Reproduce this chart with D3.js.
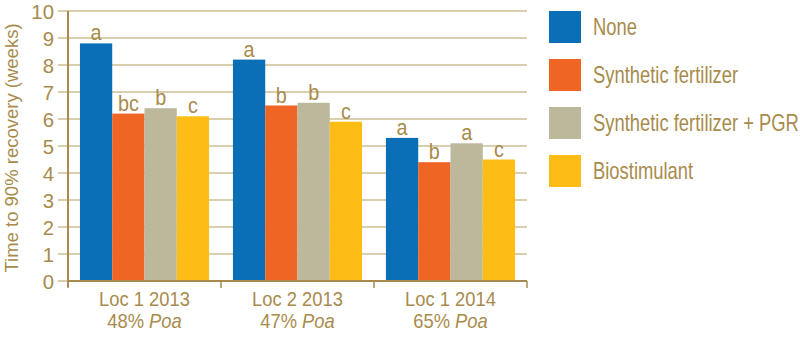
<!DOCTYPE html>
<html><head><meta charset="utf-8">
<script src="https://cdn.jsdelivr.net/npm/d3@7"></script>
<style>
html,body{margin:0;padding:0;background:#fff;}
svg text{font-family:"Liberation Sans","Arial",sans-serif;fill:#a88b4c;}
</style></head>
<body><svg id="c" width="800" height="352"></svg>
<script>
const categories = ["Loc 1 2013", "Loc 2 2013", "Loc 1 2014"];
const poaLabels = ["48%", "47%", "65%"];
const series = ["None", "Synthetic fertilizer", "Synthetic fertilizer + PGR", "Biostimulant"];
const colors = ["#0a6fb6", "#ef6523", "#bbb89c", "#fdbd15"];
const values = [
  [8.8, 6.2, 6.4, 6.1],
  [8.2, 6.5, 6.6, 5.9],
  [5.3, 4.4, 5.1, 4.5]
];
const letters = [
  ["a", "bc", "b", "c"],
  ["a", "b", "b", "c"],
  ["a", "b", "a", "c"]
];
const yTicks = [0,1,2,3,4,5,6,7,8,9,10];

const svg = d3.select("#c");
const L = 68, R = 527, T = 11, B = 281;
const gridCol = "#cdbf93", axisCol = "#a88b4c";

// condensed text helper: horizontal squeeze
function txt(parent, x, y, str, size, sx, anchor) {
  const t = parent.append("text")
    .attr("transform", `translate(${x},${y}) scale(${sx},1)`)
    .attr("text-anchor", anchor || "start")
    .style("font-size", size + "px");
  if (str !== null) t.text(str);
  return t;
}

const y = d3.scaleLinear().domain([0, 10]).range([B, T]);
const x0 = d3.scaleBand().domain(categories).range([L, R]).padding(0);
const x1 = d3.scaleBand().domain(series).range([0, x0.bandwidth()]).paddingInner(0).paddingOuter(0.37);
const color = d3.scaleOrdinal().domain(series).range(colors);

// gridlines (incl. tick stubs left of axis)
svg.append("g").selectAll("line").data(yTicks).join("line")
  .attr("x1", L - 10).attr("x2", d => d === 0 ? L : R)
  .attr("y1", d => y(d)).attr("y2", d => y(d))
  .attr("stroke", gridCol).attr("stroke-width", 1.6);

// y tick labels
const yl = svg.append("g");
yTicks.forEach(d => txt(yl, L - 14, y(d) + 7.5, String(d), 21, 0.97, "end"));

// bars
const groups = svg.append("g").selectAll("g").data(categories).join("g")
  .attr("transform", d => `translate(${x0(d)},0)`);
groups.each(function(cat, i) {
  const g = d3.select(this);
  const rows = series.map((s, j) => ({s, v: values[i][j], l: letters[i][j]}));
  g.selectAll("rect").data(rows).join("rect")
    .attr("x", d => x1(d.s)).attr("width", x1.bandwidth())
    .attr("y", d => y(d.v)).attr("height", d => y(0) - y(d.v))
    .attr("fill", d => color(d.s));
  rows.forEach(d => txt(g, x1(d.s) + x1.bandwidth() / 2, y(d.v) - 3, d.l, 22, 0.9, "middle"));
});

// axes lines
svg.append("line").attr("x1", L).attr("x2", L).attr("y1", T).attr("y2", B + 6)
  .attr("stroke", axisCol).attr("stroke-width", 2);
svg.append("line").attr("x1", L).attr("x2", R).attr("y1", B).attr("y2", B)
  .attr("stroke", axisCol).attr("stroke-width", 2);
const bounds = categories.map(c => x0(c)).concat([x0(categories[2]) + x0.bandwidth()]);
svg.append("g").selectAll("line").data(bounds).join("line")
  .attr("x1", d => d).attr("x2", d => d).attr("y1", B).attr("y2", B + 7)
  .attr("stroke", axisCol).attr("stroke-width", 1.5);

// x labels (two lines)
categories.forEach((c, i) => {
  const cx = x0(c) + x0.bandwidth() / 2;
  const t = txt(svg, cx, B + 25, null, 20, 0.92, "middle");
  t.append("tspan").attr("x", 0).attr("dy", 0).text(c);
  const l2 = t.append("tspan").attr("x", 0).attr("dy", 22.5);
  l2.append("tspan").text(poaLabels[i] + " ");
  l2.append("tspan").style("font-style", "italic").text("Poa");
});

// y title
svg.append("text").attr("transform", `translate(18,${(T + B) / 2 + 2}) rotate(-90)`)
  .attr("text-anchor", "middle").style("font-size", "18.5px")
  .text("Time to 90% recovery (weeks)");

// legend
const lg = svg.append("g").selectAll("g").data(series).join("g")
  .attr("transform", (d, i) => `translate(549,${11 + i * 48})`);
lg.append("rect").attr("width", 32).attr("height", 32).attr("fill", d => color(d));
lg.each(function(d) { txt(d3.select(this), 44, 24, d, 23, 0.8, "start"); });
</script></body></html>
